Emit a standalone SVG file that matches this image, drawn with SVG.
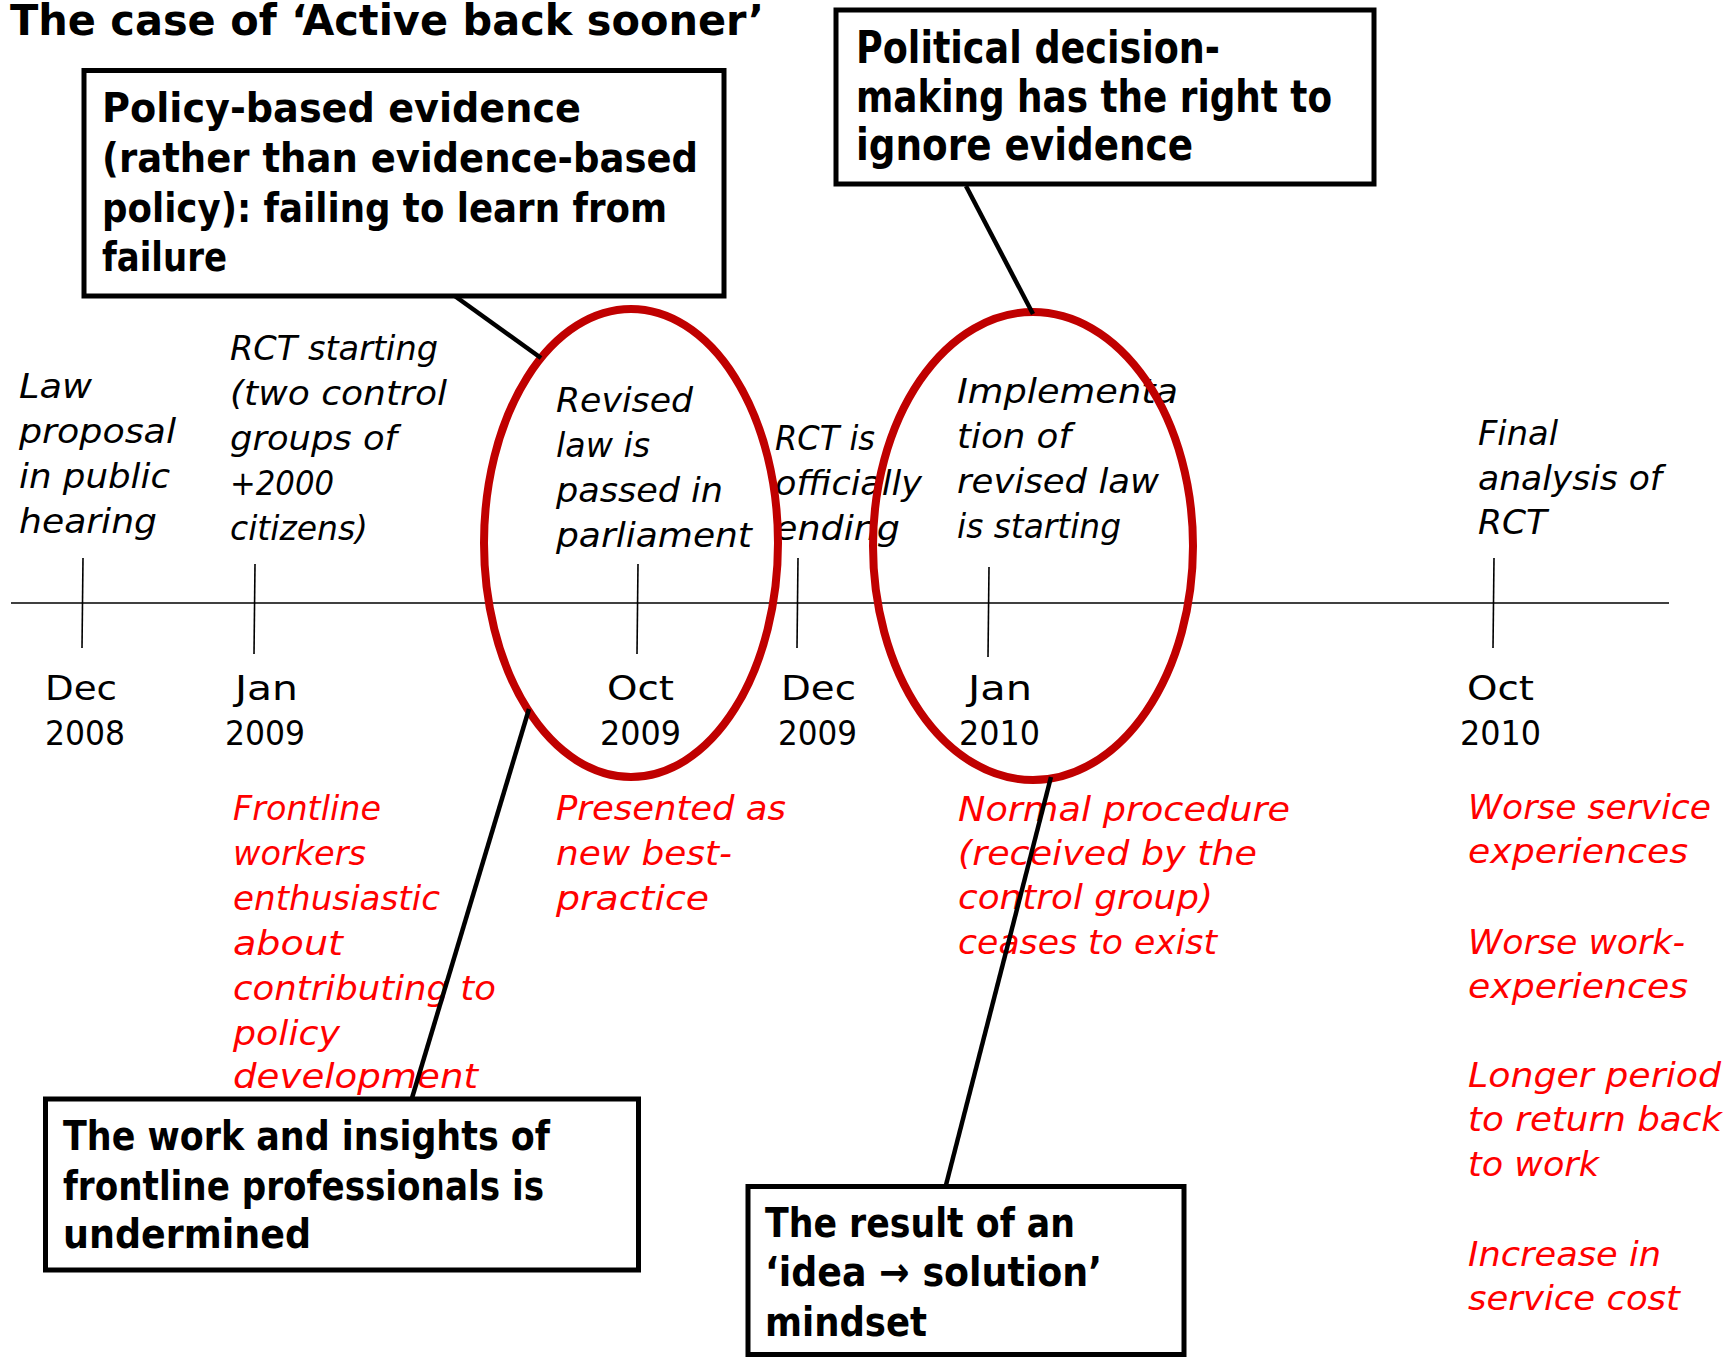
<svg xmlns="http://www.w3.org/2000/svg" width="1729" height="1357" viewBox="0 0 1729 1357">
  <style>
    text { font-family: "DejaVu Sans", "Liberation Sans", sans-serif; }
    .title { font-size: 42px; font-weight: bold; fill: #000; }
    .box { fill: #fff; stroke: #000; stroke-width: 5; }
    .bt { font-size: 41px; font-weight: bold; fill: #000; }
    .bt-lg { font-size: 44px; font-weight: bold; fill: #000; }
    .ev { font-size: 34px; font-style: italic; fill: #000; }
    .dt { font-size: 34px; fill: #000; }
    .rd { font-size: 34px; font-style: italic; fill: #ff0000; }
    .ring { fill: none; stroke: #c00000; stroke-width: 8; }
    .conn { stroke: #000; stroke-width: 4.5; fill: none; }
    .axis { stroke: #000; stroke-width: 1.6; fill: none; }
  </style>

  <rect width="1729" height="1357" fill="#fff"/>

  <text class="title" x="10" y="35" textLength="754" lengthAdjust="spacingAndGlyphs">The case of ‘Active back sooner’</text>

  <!-- timeline axis with ticks -->
  <g id="timeline">
    <line class="axis" x1="11" y1="603" x2="1669" y2="603"/>
    <line class="axis" x1="83" y1="558" x2="82" y2="648"/>
    <line class="axis" x1="255" y1="564" x2="254" y2="654"/>
    <line class="axis" x1="638" y1="564" x2="637" y2="654"/>
    <line class="axis" x1="798" y1="558" x2="797" y2="648"/>
    <line class="axis" x1="989" y1="567" x2="988" y2="657"/>
    <line class="axis" x1="1494" y1="558" x2="1493" y2="648"/>
  </g>

  <!-- events above the axis, dates below, consequences in red -->
  <g id="event-dec-2008">
    <text class="ev" x="19" y="398" textLength="73" lengthAdjust="spacingAndGlyphs">Law</text>
    <text class="ev" x="19" y="443" textLength="157" lengthAdjust="spacingAndGlyphs">proposal</text>
    <text class="ev" x="19" y="488" textLength="151" lengthAdjust="spacingAndGlyphs">in public</text>
    <text class="ev" x="19" y="533" textLength="138" lengthAdjust="spacingAndGlyphs">hearing</text>
    <text class="dt" x="45" y="700" textLength="72" lengthAdjust="spacingAndGlyphs">Dec</text>
    <text class="dt" x="45" y="745" textLength="80" lengthAdjust="spacingAndGlyphs">2008</text>
  </g>

  <g id="event-jan-2009">
    <text class="ev" x="230" y="360" textLength="208" lengthAdjust="spacingAndGlyphs">RCT starting</text>
    <text class="ev" x="230" y="405" textLength="217" lengthAdjust="spacingAndGlyphs">(two control</text>
    <text class="ev" x="230" y="450" textLength="167" lengthAdjust="spacingAndGlyphs">groups of</text>
    <text class="ev" x="230" y="495" textLength="104" lengthAdjust="spacingAndGlyphs">+2000</text>
    <text class="ev" x="230" y="540" textLength="138" lengthAdjust="spacingAndGlyphs">citizens)</text>
    <text class="dt" x="235" y="700" textLength="63" lengthAdjust="spacingAndGlyphs">Jan</text>
    <text class="dt" x="225" y="745" textLength="80" lengthAdjust="spacingAndGlyphs">2009</text>
    <text class="rd" x="233" y="820" textLength="148" lengthAdjust="spacingAndGlyphs">Frontline</text>
    <text class="rd" x="233" y="865" textLength="133" lengthAdjust="spacingAndGlyphs">workers</text>
    <text class="rd" x="233" y="910" textLength="207" lengthAdjust="spacingAndGlyphs">enthusiastic</text>
    <text class="rd" x="233" y="955" textLength="110" lengthAdjust="spacingAndGlyphs">about</text>
    <text class="rd" x="233" y="1000" textLength="263" lengthAdjust="spacingAndGlyphs">contributing to</text>
    <text class="rd" x="233" y="1045" textLength="107" lengthAdjust="spacingAndGlyphs">policy</text>
    <text class="rd" x="233" y="1088" textLength="245" lengthAdjust="spacingAndGlyphs">development</text>
  </g>

  <g id="event-oct-2009">
    <text class="ev" x="556" y="412" textLength="137" lengthAdjust="spacingAndGlyphs">Revised</text>
    <text class="ev" x="556" y="457" textLength="94" lengthAdjust="spacingAndGlyphs">law is</text>
    <text class="ev" x="556" y="502" textLength="167" lengthAdjust="spacingAndGlyphs">passed in</text>
    <text class="ev" x="556" y="547" textLength="196" lengthAdjust="spacingAndGlyphs">parliament</text>
    <text class="dt" x="607" y="700" textLength="67" lengthAdjust="spacingAndGlyphs">Oct</text>
    <text class="dt" x="600" y="745" textLength="81" lengthAdjust="spacingAndGlyphs">2009</text>
    <text class="rd" x="556" y="820" textLength="230" lengthAdjust="spacingAndGlyphs">Presented as</text>
    <text class="rd" x="556" y="865" textLength="176" lengthAdjust="spacingAndGlyphs">new best-</text>
    <text class="rd" x="556" y="910" textLength="153" lengthAdjust="spacingAndGlyphs">practice</text>
  </g>

  <g id="event-dec-2009">
    <text class="ev" x="775" y="450" textLength="100" lengthAdjust="spacingAndGlyphs">RCT is</text>
    <text class="ev" x="775" y="495" textLength="147" lengthAdjust="spacingAndGlyphs">officially</text>
    <text class="ev" x="775" y="540" textLength="125" lengthAdjust="spacingAndGlyphs">ending</text>
    <text class="dt" x="781" y="700" textLength="75" lengthAdjust="spacingAndGlyphs">Dec</text>
    <text class="dt" x="778" y="745" textLength="79" lengthAdjust="spacingAndGlyphs">2009</text>
  </g>

  <g id="event-jan-2010">
    <text class="ev" x="957" y="403" textLength="221" lengthAdjust="spacingAndGlyphs">Implementa</text>
    <text class="ev" x="957" y="448" textLength="114" lengthAdjust="spacingAndGlyphs">tion of</text>
    <text class="ev" x="957" y="493" textLength="202" lengthAdjust="spacingAndGlyphs">revised law</text>
    <text class="ev" x="957" y="538" textLength="164" lengthAdjust="spacingAndGlyphs">is starting</text>
    <text class="dt" x="968" y="700" textLength="64" lengthAdjust="spacingAndGlyphs">Jan</text>
    <text class="dt" x="959" y="745" textLength="81" lengthAdjust="spacingAndGlyphs">2010</text>
    <text class="rd" x="958" y="821" textLength="332" lengthAdjust="spacingAndGlyphs">Normal procedure</text>
    <text class="rd" x="958" y="865" textLength="299" lengthAdjust="spacingAndGlyphs">(received by the</text>
    <text class="rd" x="958" y="909" textLength="255" lengthAdjust="spacingAndGlyphs">control group)</text>
    <text class="rd" x="958" y="954" textLength="259" lengthAdjust="spacingAndGlyphs">ceases to exist</text>
  </g>

  <g id="event-oct-2010">
    <text class="ev" x="1478" y="445" textLength="80" lengthAdjust="spacingAndGlyphs">Final</text>
    <text class="ev" x="1478" y="490" textLength="184" lengthAdjust="spacingAndGlyphs">analysis of</text>
    <text class="ev" x="1478" y="534" textLength="69" lengthAdjust="spacingAndGlyphs">RCT</text>
    <text class="dt" x="1467" y="700" textLength="67" lengthAdjust="spacingAndGlyphs">Oct</text>
    <text class="dt" x="1460" y="745" textLength="81" lengthAdjust="spacingAndGlyphs">2010</text>
    <text class="rd" x="1468" y="819" textLength="243" lengthAdjust="spacingAndGlyphs">Worse service</text>
    <text class="rd" x="1468" y="863" textLength="220" lengthAdjust="spacingAndGlyphs">experiences</text>
    <text class="rd" x="1468" y="954" textLength="217" lengthAdjust="spacingAndGlyphs">Worse work-</text>
    <text class="rd" x="1468" y="998" textLength="220" lengthAdjust="spacingAndGlyphs">experiences</text>
    <text class="rd" x="1468" y="1087" textLength="253" lengthAdjust="spacingAndGlyphs">Longer period</text>
    <text class="rd" x="1468" y="1131" textLength="254" lengthAdjust="spacingAndGlyphs">to return back</text>
    <text class="rd" x="1468" y="1176" textLength="131" lengthAdjust="spacingAndGlyphs">to work</text>
    <text class="rd" x="1468" y="1266" textLength="193" lengthAdjust="spacingAndGlyphs">Increase in</text>
    <text class="rd" x="1468" y="1310" textLength="212" lengthAdjust="spacingAndGlyphs">service cost</text>
  </g>

  <!-- highlight rings -->
  <g id="ring-oct-2009">
    <ellipse class="ring" cx="631" cy="543" rx="147" ry="234"/>
  </g>
  <g id="ring-jan-2010">
    <ellipse class="ring" cx="1033" cy="546" rx="160" ry="234"/>
  </g>

  <!-- callout connectors -->
  <g id="connectors">
    <line class="conn" x1="452" y1="294" x2="541" y2="358"/>
    <line class="conn" x1="966" y1="186" x2="1033" y2="314"/>
    <line class="conn" x1="412" y1="1098" x2="529" y2="709"/>
    <line class="conn" x1="946" y1="1185" x2="1051" y2="777"/>
  </g>

  <!-- callout boxes -->
  <g id="callout-policy-based-evidence">
    <rect class="box" x="84" y="70.5" width="640" height="225.5"/>
    <text class="bt" x="102" y="122" textLength="479" lengthAdjust="spacingAndGlyphs">Policy-based evidence</text>
    <text class="bt" x="102" y="172" textLength="596" lengthAdjust="spacingAndGlyphs">(rather than evidence-based</text>
    <text class="bt" x="102" y="222" textLength="565" lengthAdjust="spacingAndGlyphs">policy): failing to learn from</text>
    <text class="bt" x="102" y="271" textLength="125" lengthAdjust="spacingAndGlyphs">failure</text>
  </g>

  <g id="callout-political-decision">
    <rect class="box" x="836" y="10" width="538" height="174"/>
    <text class="bt-lg" x="856" y="63" textLength="364" lengthAdjust="spacingAndGlyphs">Political decision-</text>
    <text class="bt-lg" x="856" y="112" textLength="476" lengthAdjust="spacingAndGlyphs">making has the right to</text>
    <text class="bt-lg" x="856" y="160" textLength="337" lengthAdjust="spacingAndGlyphs">ignore evidence</text>
  </g>

  <g id="callout-frontline-undermined">
    <rect class="box" x="45.5" y="1099" width="593" height="171"/>
    <text class="bt" x="63" y="1150" textLength="487" lengthAdjust="spacingAndGlyphs">The work and insights of</text>
    <text class="bt" x="63" y="1200" textLength="481" lengthAdjust="spacingAndGlyphs">frontline professionals is</text>
    <text class="bt" x="63" y="1248" textLength="248" lengthAdjust="spacingAndGlyphs">undermined</text>
  </g>

  <g id="callout-idea-solution">
    <rect class="box" x="748" y="1186.5" width="436" height="168"/>
    <text class="bt" x="765" y="1237" textLength="310" lengthAdjust="spacingAndGlyphs">The result of an</text>
    <text class="bt" x="765" y="1286" textLength="337" lengthAdjust="spacingAndGlyphs">‘idea → solution’</text>
    <text class="bt" x="765" y="1336" textLength="162" lengthAdjust="spacingAndGlyphs">mindset</text>
  </g>
</svg>
